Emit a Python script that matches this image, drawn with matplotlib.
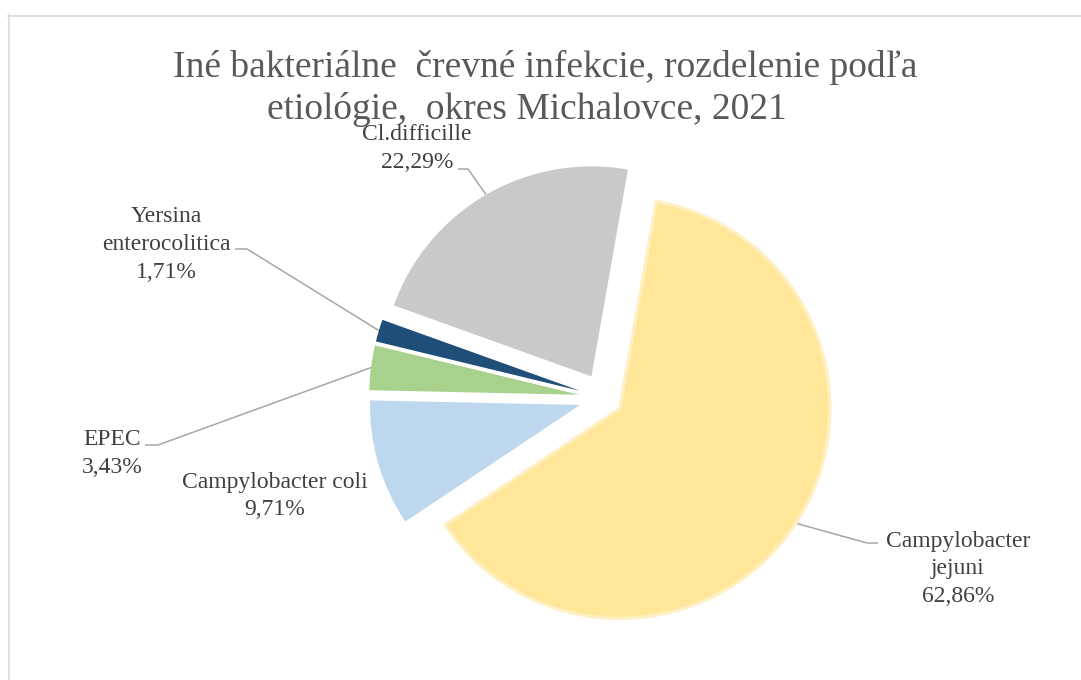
import matplotlib
matplotlib.use("Agg")
import matplotlib.pyplot as plt
from matplotlib.lines import Line2D
import numpy as np

# ---- data ----
categories = ["Campylobacter jejuni", "Campylobacter coli", "EPEC",
              "Yersina enterocolitica", "Cl.difficille"]
values = [62.86, 9.71, 3.43, 1.71, 22.29]
pct_labels = ["62,86%", "9,71%", "3,43%", "1,71%", "22,29%"]
colors = ["#FFE699", "#BDD7EE", "#A9D18E", "#1F4E79", "#C9C9C9"]
title_lines = ["Iné bakteriálne  črevné infekcie, rozdelenie podľa",
               "etiológie,  okres Michalovce, 2021"]

# ---- layout (pixels) ----
W, H = 1081, 680
CX, CY, R = 604, 398, 210.0
explode = [19 / R, 25 / R, 25 / R, 25 / R, 25 / R]

plt.rcParams['font.family'] = ['Liberation Serif', 'DejaVu Serif']

fig = plt.figure(figsize=(W / 100, H / 100), dpi=100)
ax = fig.add_axes([0, 0, 1, 1])

wedges, _ = ax.pie(values, explode=explode, colors=colors, startangle=80,
                   counterclock=False, radius=1.0,
                   wedgeprops=dict(linewidth=0))
wedges[0].set_edgecolor("#FFF0C4")
wedges[0].set_linewidth(2.4)

ax.set_xlim(-CX / R, (W - CX) / R)
ax.set_ylim(-(H - CY) / R, CY / R)
ax.set_aspect('auto')
ax.axis('off')


def P(x, y):
    return ((x - CX) / R, (CY - y) / R)


def arc_mid(w):
    t = np.deg2rad((w.theta1 + w.theta2) / 2)
    return (w.center[0] + w.r * np.cos(t), w.center[1] + w.r * np.sin(t))


label_color = "#404040"
fs = 17
# label layout: (lines, center x, baselines)
label_layout = {
    0: (["Campylobacter", "jejuni", pct_labels[0]], 958, [547, 574, 602]),
    1: (["Campylobacter coli", pct_labels[1]], 275, [488, 515]),
    2: (["EPEC", pct_labels[2]], 112, [445, 473]),
    3: (["Yersina", "enterocolitica", pct_labels[3]], 166, [222, 250, 278]),
    4: (["Cl.difficille", pct_labels[4]], 417, [140, 168]),
}
for i, (lines, x, ys) in label_layout.items():
    for t, y in zip(lines, ys):
        ax.text(*P(x, y), t, ha='center', va='baseline', fontsize=fs,
                color=label_color)

# leader lines: (bend point, end point) in pixels
leaders = {
    0: ((867, 543), (878, 543)),
    2: ((158, 445), (145, 445)),
    3: ((247, 249), (235, 249)),
    4: ((468, 169), (458, 169)),
}
for i, (b, e) in leaders.items():
    sx, sy = arc_mid(wedges[i])
    bx, by = P(*b)
    ex, ey = P(*e)
    ax.plot([sx, bx, ex], [sy, by, ey], color="#A6A6A6", lw=1.1,
            solid_capstyle='butt', zorder=0.5)

# title
ax.text(*P(545, 77), title_lines[0], ha='center', va='baseline',
        fontsize=27, color="#595959")
ax.text(*P(527, 119), title_lines[1], ha='center', va='baseline',
        fontsize=27, color="#595959")

# chart frame (left and top edges visible)
fc = "#D9D9D9"
fig.add_artist(Line2D([8.5 / W, 8.5 / W], [0, 1 - 15 / H], color=fc, lw=1.2,
                      transform=fig.transFigure))
fig.add_artist(Line2D([8 / W, 1], [1 - 15.5 / H, 1 - 15.5 / H], color=fc,
                      lw=1.2, transform=fig.transFigure))

fig.savefig("out.png", dpi=100)
